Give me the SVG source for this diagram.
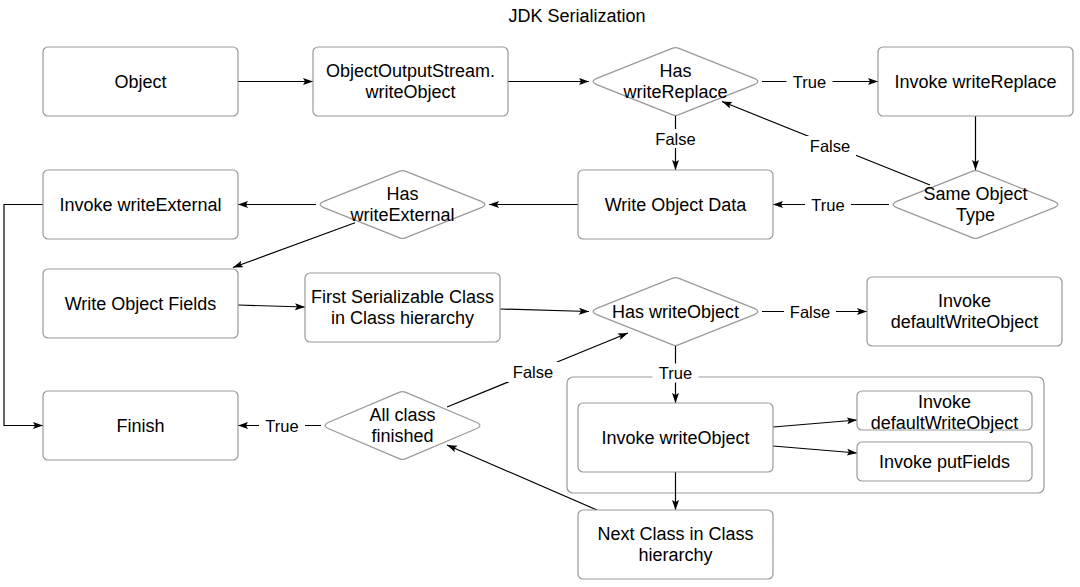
<svg xmlns="http://www.w3.org/2000/svg" width="1080" height="587" viewBox="0 0 1080 587">
<style>
  .box { fill: #ffffff; stroke: #999999; stroke-width: 1.2; }
  .t { font-family: "Liberation Sans", Arial, sans-serif; font-size: 18px; fill: #000000; text-anchor: middle; dominant-baseline: central; }
  .lbl { font-family: "Liberation Sans", Arial, sans-serif; font-size: 16.5px; fill: #000000; text-anchor: middle; dominant-baseline: central; }
  .edge { fill: none; stroke: #000000; stroke-width: 1.2; }
  .arr { marker-end: url(#ah); }
  .lblbg { fill: #ffffff; stroke: none; }
</style>
<defs>
  <marker id="ah" markerUnits="userSpaceOnUse" markerWidth="10" markerHeight="8" refX="10" refY="3.5" orient="auto">
    <path d="M0,0 L10,3.5 L0,7 L2,3.5 Z" fill="#000000"/>
  </marker>
  <path id="diaA" d="M -78.14,-3.33 L -2.79,-33.39 Q 0,-34.5 2.79,-33.39 L 78.14,-3.33 Q 86.5,0 78.14,3.33 L 2.79,33.39 Q 0,34.5 -2.79,33.39 L -78.14,3.33 Q -86.5,0 -78.14,-3.33 Z"/>
  <path id="diaB" d="M -73.21,-3.51 L -2.76,-33.33 Q 0,-34.5 2.76,-33.33 L 73.21,-3.51 Q 81.5,0 73.21,3.51 L 2.76,33.33 Q 0,34.5 -2.76,33.33 L -73.21,3.51 Q -81.5,0 -73.21,-3.51 Z"/>
</defs>

<rect width="1080" height="587" fill="#ffffff"/>

<text id="title" class="t" x="577" y="16">JDK Serialization</text>

<g id="container">
  <rect class="box" x="567" y="377" width="477" height="116" rx="6"/>
</g>

<g id="connectors">
  <line class="edge arr" x1="238" y1="81.5" x2="313" y2="81.5"/>
  <line class="edge arr" x1="508" y1="81.5" x2="589" y2="81.5"/>
  <line class="edge arr" x1="762" y1="81.5" x2="878" y2="81.5"/>
  <line class="edge arr" x1="675.5" y1="116" x2="675.5" y2="170"/>
  <line class="edge arr" x1="975.5" y1="116" x2="975.5" y2="170"/>
  <line class="edge arr" x1="930" y1="185" x2="722" y2="101.5"/>
  <line class="edge arr" x1="889" y1="204.5" x2="773" y2="204.5"/>
  <line class="edge arr" x1="578" y1="204.5" x2="489" y2="204.5"/>
  <line class="edge arr" x1="316" y1="204.5" x2="238" y2="204.5"/>
  <polyline class="edge arr" points="43,204.5 4,204.5 4,425.5 43,425.5"/>
  <line class="edge arr" x1="355" y1="222.7" x2="233" y2="267.5"/>
  <line class="edge arr" x1="238" y1="305" x2="305" y2="307"/>
  <line class="edge arr" x1="500" y1="309" x2="589" y2="311.5"/>
  <line class="edge arr" x1="762" y1="311.5" x2="867" y2="311.5"/>
  <line class="edge arr" x1="675.5" y1="346" x2="675.5" y2="403"/>
  <line class="edge arr" x1="773" y1="427" x2="857" y2="420"/>
  <line class="edge arr" x1="773" y1="446" x2="857" y2="453"/>
  <line class="edge arr" x1="675.5" y1="472" x2="675.5" y2="510"/>
  <line class="edge arr" x1="597" y1="510" x2="447" y2="445"/>
  <line class="edge arr" x1="447" y1="407" x2="628" y2="333"/>
  <line class="edge arr" x1="321" y1="425.5" x2="238" y2="425.5"/>

  <rect class="lblbg" x="786.5" y="72" width="46" height="19"/>
  <text class="lbl" x="809.5" y="81.5">True</text>
  <rect class="lblbg" x="649.5" y="129" width="52" height="19"/>
  <text class="lbl" x="675.5" y="138.5">False</text>
  <rect class="lblbg" x="804" y="136" width="52" height="20"/>
  <text class="lbl" x="830" y="146">False</text>
  <rect class="lblbg" x="805" y="195" width="46" height="19"/>
  <text class="lbl" x="828" y="204.5">True</text>
  <rect class="lblbg" x="784" y="302" width="52" height="19"/>
  <text class="lbl" x="810" y="311.5">False</text>
  <rect class="lblbg" x="652.5" y="363.5" width="46" height="19"/>
  <text class="lbl" x="675.5" y="373">True</text>
  <rect class="lblbg" x="507" y="362" width="52" height="20"/>
  <text class="lbl" x="533" y="372">False</text>
  <rect class="lblbg" x="259" y="416" width="46" height="19"/>
  <text class="lbl" x="282" y="425.5">True</text>
</g>

<g id="n-object">
  <rect class="box" x="43" y="47" width="195" height="69" rx="5"/>
  <text class="t" x="140.5" y="81.5">Object</text>
</g>
<g id="n-oos">
  <rect class="box" x="313" y="47" width="195" height="69" rx="5"/>
  <text class="t" x="410.5" y="71">ObjectOutputStream.</text>
  <text class="t" x="410.5" y="92">writeObject</text>
</g>
<g id="n-has-writereplace">
  <use href="#diaA" class="box" x="675.5" y="81.5"/>
  <text class="t" x="675.5" y="71">Has</text>
  <text class="t" x="675.5" y="92">writeReplace</text>
</g>
<g id="n-invoke-writereplace">
  <rect class="box" x="878" y="47" width="195" height="69" rx="5"/>
  <text class="t" x="975.5" y="81.5">Invoke writeReplace</text>
</g>
<g id="n-invoke-writeexternal">
  <rect class="box" x="43" y="170" width="195" height="69" rx="5"/>
  <text class="t" x="140.5" y="204.5">Invoke writeExternal</text>
</g>
<g id="n-has-writeexternal">
  <use href="#diaA" class="box" x="402.5" y="204.5"/>
  <text class="t" x="402.5" y="194">Has</text>
  <text class="t" x="402.5" y="215">writeExternal</text>
</g>
<g id="n-write-object-data">
  <rect class="box" x="578" y="170" width="195" height="69" rx="5"/>
  <text class="t" x="675.5" y="204.5">Write Object Data</text>
</g>
<g id="n-same-object-type">
  <use href="#diaA" class="box" x="975.5" y="204.5"/>
  <text class="t" x="975.5" y="194">Same Object</text>
  <text class="t" x="975.5" y="215">Type</text>
</g>
<g id="n-write-object-fields">
  <rect class="box" x="43" y="269" width="195" height="69" rx="5"/>
  <text class="t" x="140.5" y="303.5">Write Object Fields</text>
</g>
<g id="n-first-serializable">
  <rect class="box" x="305" y="273" width="195" height="69" rx="5"/>
  <text class="t" x="402.5" y="297">First Serializable Class</text>
  <text class="t" x="402.5" y="318">in Class hierarchy</text>
</g>
<g id="n-has-writeobject">
  <use href="#diaA" class="box" x="675.5" y="311.5"/>
  <text class="t" x="675.5" y="311.5">Has writeObject</text>
</g>
<g id="n-invoke-defaultwriteobject">
  <rect class="box" x="867" y="277" width="195" height="69" rx="5"/>
  <text class="t" x="964.5" y="301">Invoke</text>
  <text class="t" x="964.5" y="322">defaultWriteObject</text>
</g>
<g id="n-invoke-writeobject">
  <rect class="box" x="578" y="403" width="195" height="69" rx="5"/>
  <text class="t" x="675.5" y="437.5">Invoke writeObject</text>
</g>
<g id="n-inner-defaultwriteobject">
  <rect class="box" x="857" y="391" width="175" height="39" rx="5"/>
  <text class="t" x="944.5" y="401.5">Invoke</text>
  <text class="t" x="944.5" y="422.5">defaultWriteObject</text>
</g>
<g id="n-invoke-putfields">
  <rect class="box" x="857" y="442" width="175" height="39" rx="5"/>
  <text class="t" x="944.5" y="461.5">Invoke putFields</text>
</g>
<g id="n-finish">
  <rect class="box" x="43" y="391" width="195" height="69" rx="5"/>
  <text class="t" x="140.5" y="425.5">Finish</text>
</g>
<g id="n-all-class-finished">
  <use href="#diaB" class="box" x="402.5" y="425.5"/>
  <text class="t" x="402.5" y="415">All class</text>
  <text class="t" x="402.5" y="436">finished</text>
</g>
<g id="n-next-class">
  <rect class="box" x="578" y="510" width="195" height="69" rx="5"/>
  <text class="t" x="675.5" y="534">Next Class in Class</text>
  <text class="t" x="675.5" y="555">hierarchy</text>
</g>
</svg>
